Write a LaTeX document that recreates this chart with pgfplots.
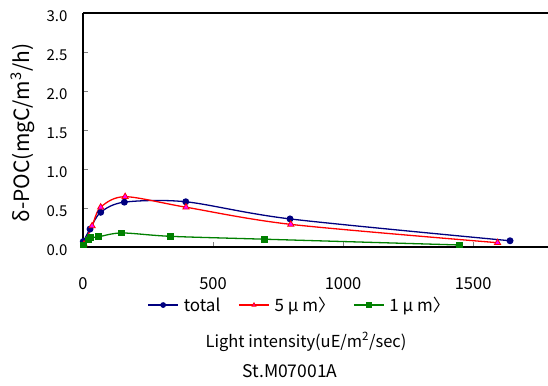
\documentclass[border=0pt]{standalone}
\usepackage{pgfplots}
\pgfplotsset{compat=1.18}
\usepackage{fontspec}
\setmainfont{Noto Sans CJK JP}
\definecolor{navyc}{RGB}{0,0,128}
\definecolor{redc}{RGB}{255,0,0}
\definecolor{magc}{RGB}{255,0,255}
\definecolor{greenc}{RGB}{0,128,0}
\begin{document}
\begin{tikzpicture}[x=1pt,y=1pt]
\useasboundingbox (0,0) rectangle (548,385);
\begin{axis}[
  at={(83pt,138pt)}, anchor=south west,
  scale only axis, width=465pt, height=234pt,
  xmin=0, xmax=1788, ymin=0, ymax=3,
  axis x line*=box, axis y line*=left,
  xtick pos=lower, ytick pos=left,
  xtick={0,500,1000,1500},
  ytick={0,0.5,1,1.5,2,2.5,3},
  yticklabel style={/pgf/number format/fixed, /pgf/number format/fixed zerofill, /pgf/number format/precision=1, xshift=-12pt, yshift=-3pt, font=\fontsize{15}{17}\selectfont},
  xticklabel style={yshift=-27pt, font=\fontsize{16.5}{18}\selectfont},
  /pgf/number format/set thousands separator={},
  /pgf/number format/assume math mode=true,
  major tick length=5pt,
  tick style={gray, line width=0.8pt},
  axis line style={black, line width=1.2pt},
  clip=false,
  legend columns=3,
  legend style={at={(0.466,-0.248)}, anchor=center, draw=none, fill=none,
    font=\fontsize{17}{19}\selectfont,
    /tikz/every odd column/.append style={column sep=3pt},
    /tikz/every even column/.append style={column sep=16pt}},
  legend image code/.code={\draw[mark repeat=2,mark phase=2] plot coordinates {(0pt,0pt) (15pt,0pt) (30pt,0pt)};},
  legend image post style={mark size=2.2pt},
]
\addplot[navyc, line width=1.3pt, smooth, mark=*, mark size=2.8pt, mark options={fill=navyc, draw=navyc}]
  coordinates {(1,0.07) (27,0.23) (68,0.445) (159,0.575) (395,0.58) (796,0.36) (1642,0.08)};
\addlegendentry{total}
\addplot[redc, line width=1.3pt, smooth, mark=triangle*, mark size=3.6pt, mark options={fill=magc, draw=redc, line width=0.8pt}]
  coordinates {(4,0.035) (35,0.27) (68,0.51) (162,0.645) (396,0.51) (799,0.29) (1594,0.055)};
\addlegendentry{5 μ m〉}
\addplot[greenc, line width=1.3pt, smooth, mark=square*, mark size=2.8pt, mark options={fill=greenc, draw=greenc}]
  coordinates {(1,0.026) (20,0.09) (29,0.12) (59,0.13) (149,0.18) (335,0.137) (697,0.10) (1446,0.026)};
\addlegendentry{1 μ m〉}
\end{axis}
\node[rotate=90, font=\fontsize{21}{23}\selectfont] at (23,252) {δ-POC(mgC/m\textsuperscript{3}/h)};
\node[font=\fontsize{16.5}{18}\selectfont] at (306,43) {Light intensity(uE/m\textsuperscript{2}/sec)};
\node[font=\fontsize{17.5}{19}\selectfont] at (290,14) {St.M07001A};
\end{tikzpicture}
\end{document}
